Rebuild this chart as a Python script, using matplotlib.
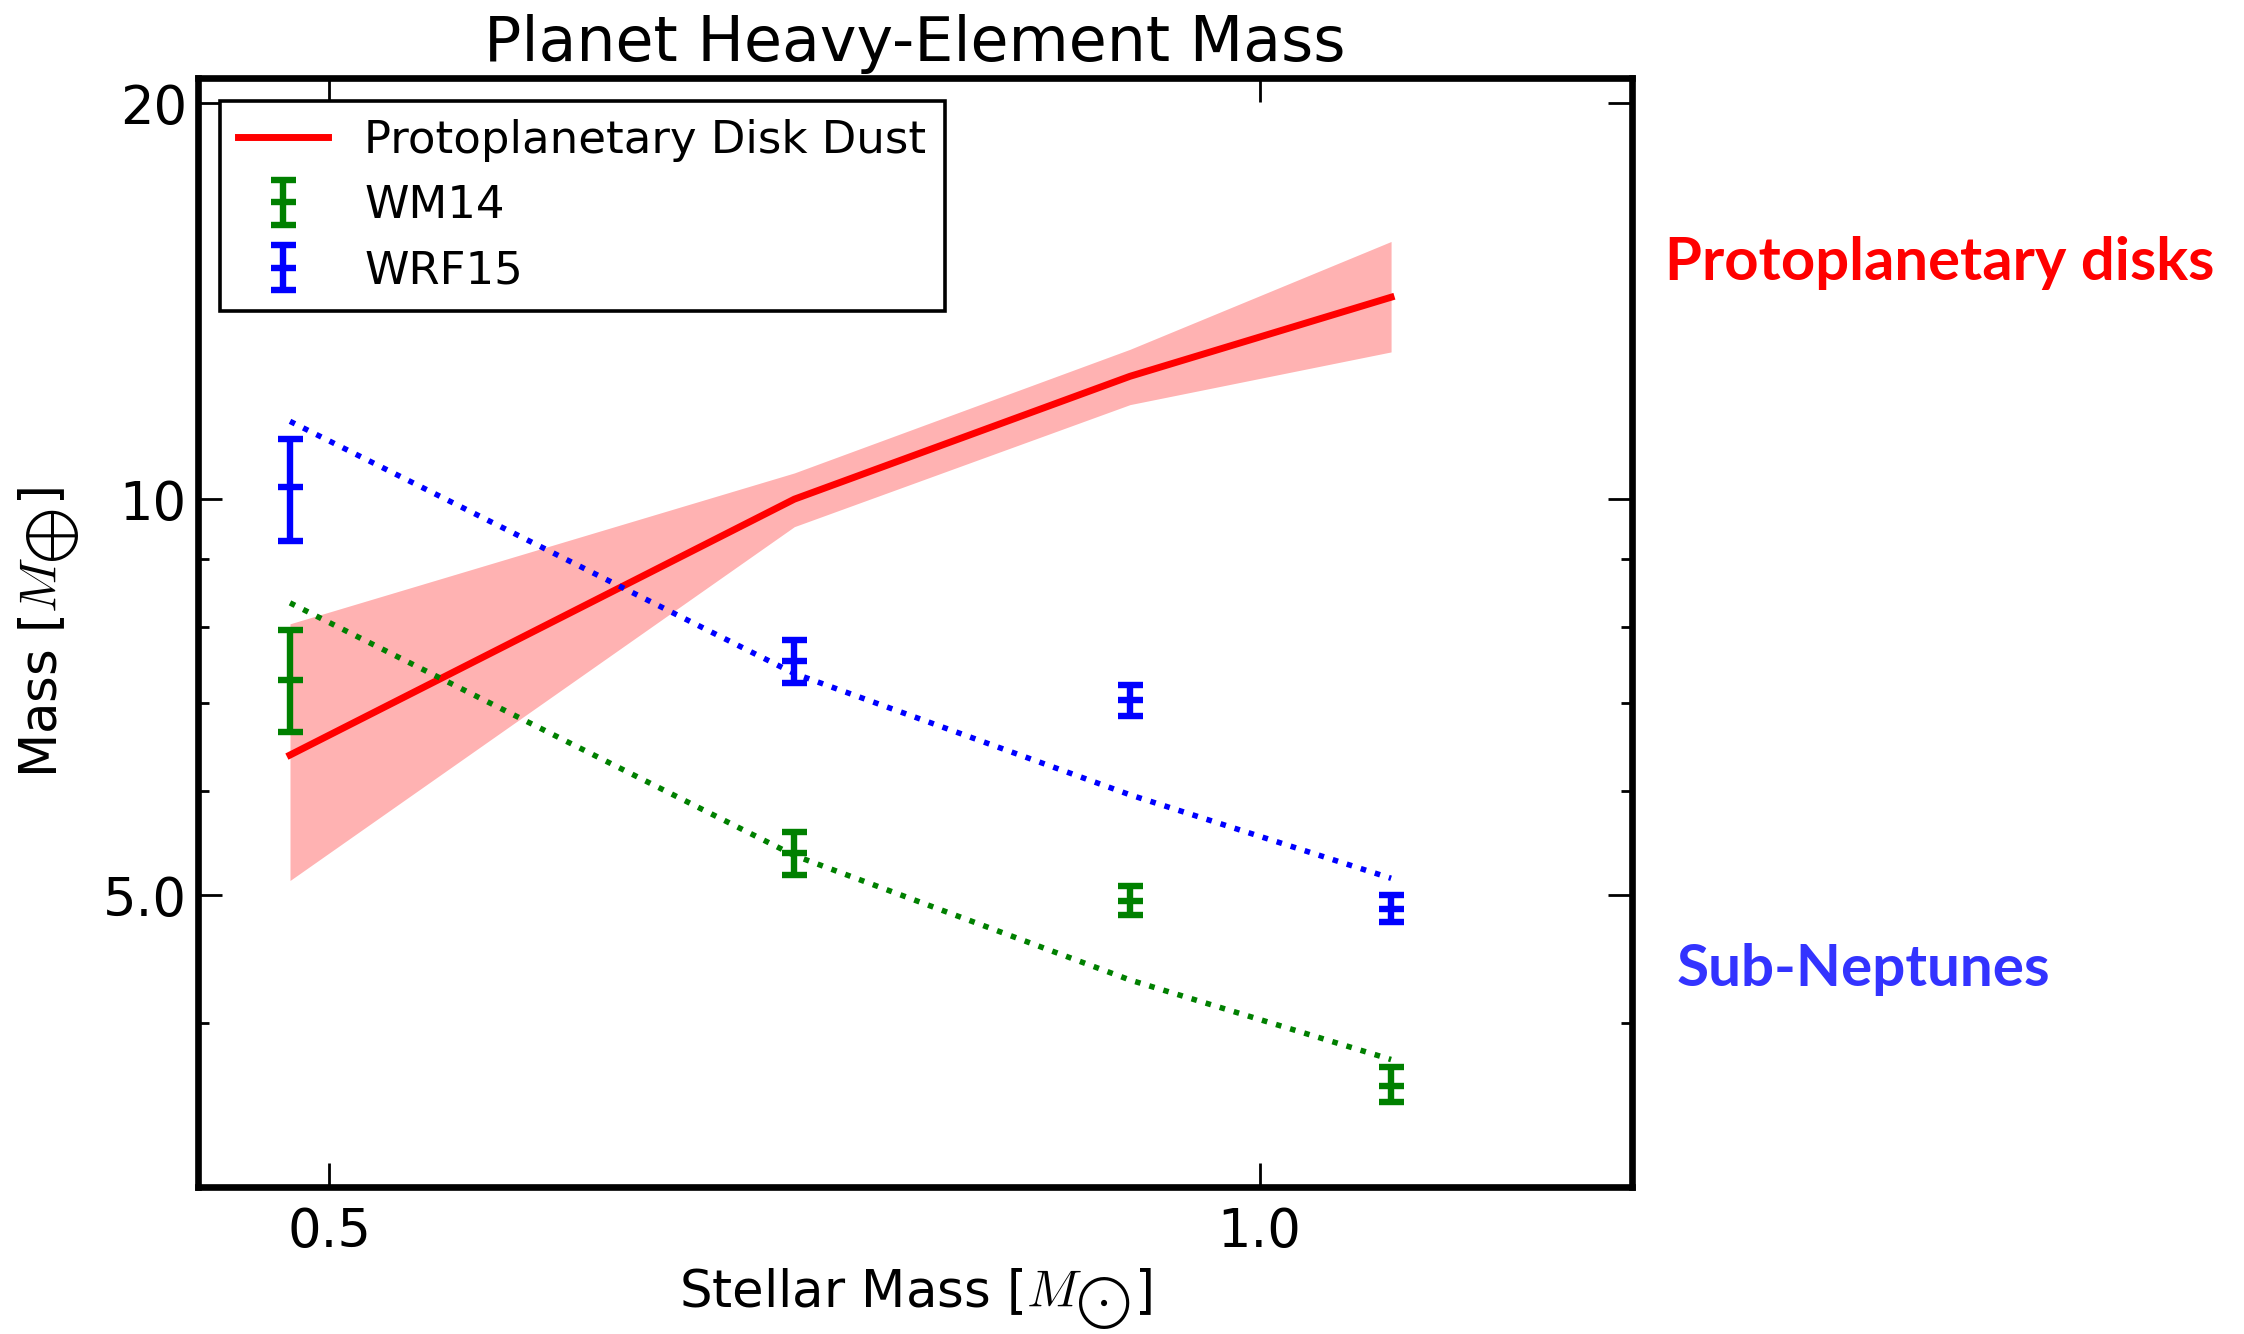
import matplotlib
matplotlib.use("Agg")
import matplotlib.pyplot as plt
from matplotlib.ticker import NullLocator, FixedLocator, NullFormatter

plt.rcParams['mathtext.fontset'] = 'cm'
plt.rcParams['font.family'] = ['DejaVu Sans']

# ---- data ----
stellar_mass = [0.4855, 0.707, 0.908, 1.103]
disk_dust = [6.39, 10.0, 12.4, 14.24]
disk_dust_lo = [5.13, 9.53, 11.8, 12.94]
disk_dust_hi = [8.04, 10.47, 13.0, 15.7]

wm14 = [7.29, 5.38, 4.95, 3.58]
wm14_lo = [6.65, 5.18, 4.83, 3.48]
wm14_hi = [7.95, 5.58, 5.08, 3.70]
wm14_fit = [8.34, 5.36, 4.31, 3.75]

wrf15 = [10.21, 7.535, 7.03, 4.88]
wrf15_lo = [9.30, 7.25, 6.84, 4.77]
wrf15_hi = [11.12, 7.81, 7.22, 5.00]
wrf15_fit = [11.46, 7.37, 5.96, 5.15]

x_ticks = [0.5, 1.0]
x_ticklabels = ["0.5", "1.0"]
y_ticks = [5, 10, 20]
y_ticklabels = ["5.0", "10", "20"]
y_minor = [4, 6, 7, 8, 9]

fig = plt.figure(figsize=(11.22, 6.67), dpi=200)
ax = fig.add_axes([0.0882, 0.1102, 0.7273 - 0.0882, 0.9415 - 0.1102])
ax.set_xscale('log')
ax.set_yscale('log')

ax.fill_between(stellar_mass, disk_dust_lo, disk_dust_hi, color='red', alpha=0.3, lw=0)
ax.plot(stellar_mass, disk_dust, color='red', lw=2.5, label='Protoplanetary Disk Dust')

ax.plot(stellar_mass, wm14_fit, color='green', ls=':', lw=2.0)
ax.plot(stellar_mass, wrf15_fit, color='blue', ls=':', lw=2.0)

def yerr(v, lo, hi):
    return [[a - b for a, b in zip(v, lo)], [c - a for a, c in zip(v, hi)]]

ax.errorbar(stellar_mass, wm14, yerr=yerr(wm14, wm14_lo, wm14_hi), fmt='_', color='green',
            ms=9, mew=2.3, elinewidth=2.3, capsize=4.5, capthick=2.3, label='WM14')
ax.errorbar(stellar_mass, wrf15, yerr=yerr(wrf15, wrf15_lo, wrf15_hi), fmt='_', color='blue',
            ms=9, mew=2.3, elinewidth=2.3, capsize=4.5, capthick=2.3, label='WRF15')

ax.set_xlim(0.4533, 1.32)
ax.set_ylim(3.0, 20.9)

ax.xaxis.set_major_locator(FixedLocator(x_ticks))
ax.set_xticklabels(x_ticklabels)
ax.xaxis.set_minor_locator(NullLocator())
ax.yaxis.set_major_locator(FixedLocator(y_ticks))
ax.set_yticklabels(y_ticklabels)
ax.yaxis.set_minor_locator(FixedLocator(y_minor))
ax.yaxis.set_minor_formatter(NullFormatter())

ax.tick_params(which='both', direction='in', top=True, right=True, labelsize=19)
ax.tick_params(axis='y', pad=4)
ax.tick_params(axis='x', pad=7)
ax.tick_params(which='major', length=8.5, width=1)
ax.tick_params(which='minor', length=3.8, width=1)
for s in ax.spines.values():
    s.set_linewidth(2.4)

ax.set_title('Planet Heavy-Element Mass', fontsize=22.3, pad=6)
ax.set_xlabel(r'Stellar Mass [$M_{\bigodot}$]', fontsize=18.5, labelpad=3)
ax.set_ylabel(r'Mass [$M_{\bigoplus}$]', fontsize=18.5, labelpad=7)

leg = ax.legend(loc='upper left', fontsize=16.2, frameon=True, fancybox=False,
                framealpha=1, edgecolor='black', borderaxespad=0.5, handlelength=2.0,
                numpoints=1)
leg.get_frame().set_linewidth(1.3)

fig.text(0.742, 0.803, 'Protoplanetary disks', color='#ff0000', fontsize=21.5,
         fontweight='bold', family='Lato', va='center', ha='left')
fig.text(0.747, 0.273, 'Sub-Neptunes', color='#3333ff', fontsize=21,
         fontweight='bold', family='Lato', va='center', ha='left')

fig.savefig('out.png', dpi=200)
